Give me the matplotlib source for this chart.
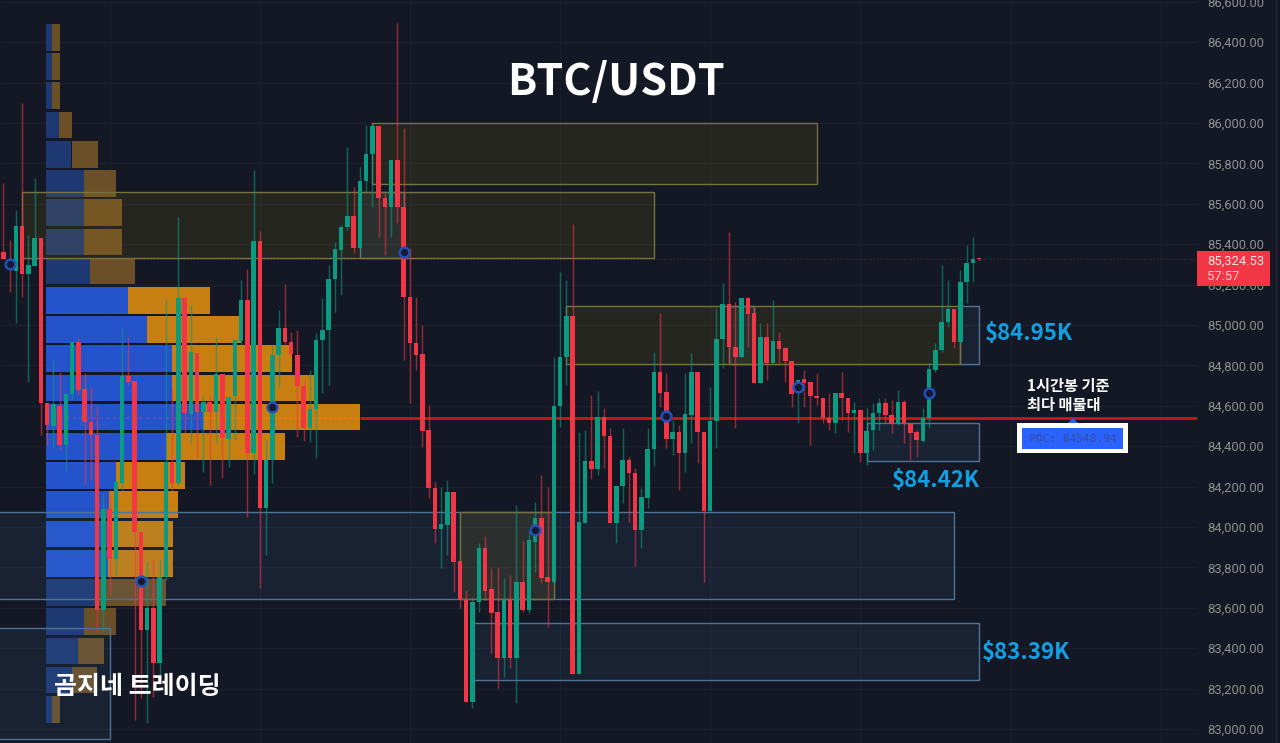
import matplotlib
matplotlib.use("Agg")
import matplotlib.pyplot as plt
from matplotlib.patches import Rectangle

plt.rcParams['font.family'] = ['Noto Sans CJK KR', 'DejaVu Sans']

# -----------------------------
# DATA
# -----------------------------
opens = [85361,85292,85267,85490,85252,85292,85430,84614,84500,84599,84406,84658,84916,84683,84520,84455,83589,84089,83842,84218,
         84747,84723,83975,83490,83599,83327,83752,84322,84218,85133,84559,84861,84569,84619,84569,84757,84436,84648,84921,85124,
         84366,85416,84094,84332,84851,84985,84916,84851,84698,84490,84584,84926,84975,85228,85371,85485,85539,85381,85713,85846,
         85985,85628,85584,85817,85584,85138,84911,84856,84480,84193,83990,84010,84173,83832,83639,83134,83629,83896,83693,83579,
         83351,83639,83351,83728,83589,83925,84044,83752,83728,84599,84841,85044,83272,84020,84327,84287,84544,84450,84020,84203,
         84332,84267,83985,84143,84386,84767,84668,84436,84470,84366,84554,84767,84470,84079,84525,84930,85104,84891,84841,85133,
         85059,84713,84940,84812,84921,84886,84822,84663,84733,84718,84648,84638,84539,84515,84663,84638,84564,84579,84366,84480,
         84564,84614,84554,84510,84619,84515,84470,84426,84539,84777,84876,85015,85079,84916,85213,85307,85325]
highs = [85703,85421,85569,86099,85445,85727,85430,84614,84827,84767,84658,84916,84940,84762,84693,84599,84168,84158,84223,84985,
         84940,84723,83975,83827,83837,83837,85124,84678,85534,85133,85099,84861,84648,84648,84940,84757,84643,84926,85223,85277,
         85767,85465,84431,84901,85074,85203,84965,84975,84728,84777,84960,85133,85297,85411,85495,85881,85683,85782,85990,86000,
         85985,85653,85817,86495,85975,85381,85138,85000,84604,84223,84198,84233,84173,83832,83688,83653,83921,83955,83797,83802,
         83747,83762,84109,83936,83985,84124,84257,84198,84841,85262,85223,85500,84470,84480,84653,84673,84589,84490,84203,84490,
         84346,84292,84193,84490,84866,85059,84762,84530,84505,84762,84861,84767,84470,84693,85084,85208,85460,85114,85133,85138,
         85089,85010,85010,85124,84965,84891,84822,84728,84777,84718,84762,84638,84663,84663,84767,84638,84619,84579,84589,84614,
         84638,84638,84629,84678,84629,84515,84480,84589,84812,84911,85297,85223,85079,85272,85396,85435,85331]
lows = [85327,85163,85010,85138,84718,85292,84455,84406,84391,84381,84272,84629,84653,84208,84233,83480,83480,83663,83762,84183,
        84703,83045,83153,83030,83158,83257,83738,84183,84208,84465,84416,84346,84272,84208,84416,84242,84297,84431,84901,84049,
        84262,83698,83861,84218,84693,84901,84846,84445,84426,84421,84341,84663,84703,85064,85148,85470,85356,85371,85658,85584,
        85435,85346,85435,85505,84827,84614,84777,84396,84143,83921,83797,83861,83678,83599,83134,83104,83579,83639,83376,83203,
        83257,83302,83129,83579,83574,83777,83723,83505,83713,84495,84703,83272,83272,84020,84238,84257,84292,84020,83921,84119,
        84025,83807,83896,84094,84302,84594,84391,84356,84183,84272,84416,84317,83728,84079,84391,84787,84812,84490,84841,84891,
        84713,84713,84728,84812,84812,84718,84594,84515,84594,84406,84604,84515,84480,84465,84530,84470,84366,84322,84307,84381,
        84480,84515,84465,84505,84416,84332,84346,84421,84490,84767,84866,84990,84886,84916,85109,85213,85318]
closes = [85327,85277,85490,85252,85297,85430,84614,84505,84609,84406,84658,84916,84678,84520,84455,83589,84089,83842,84223,84747,
          84718,83975,83490,83599,83327,83752,84322,84218,85133,84564,84866,84569,84619,84569,84757,84440,84643,84926,85124,84366,
          85416,84094,84332,84851,84985,84916,84856,84698,84490,84584,84926,84975,85228,85376,85485,85539,85381,85713,85846,85985,
          85628,85584,85817,85584,85138,84911,84851,84475,84193,83990,84015,84173,83827,83639,83134,83629,83896,83683,83574,83351,
          83639,83351,83728,83589,83936,84044,83747,83728,84599,84841,85044,83272,84025,84327,84287,84544,84450,84020,84203,84332,
          84267,83985,84148,84386,84767,84663,84436,84470,84366,84559,84767,84470,84079,84525,84930,85104,84891,84841,85133,85054,
          84713,84940,84812,84921,84881,84822,84658,84728,84713,84648,84638,84539,84515,84663,84638,84564,84579,84366,84475,84564,
          84614,84554,84510,84619,84515,84465,84431,84539,84782,84876,85015,85079,84916,85213,85307,85327,85324.53]

# volume profile rows, top to bottom
row_tops = [86490,86345,86201,86056,85911,85767,85622,85477,85333,85188,85043,84899,84754,84610,84465,84320,84176,84031,83886,83742,83597,83452,83308,83163]
buy_vol = [6.5,6.5,6.5,13,25.5,38,38,38,44,82,101,126,126,157,120,70,63,62,62,51,38,32,26,6.5]
sell_vol = [7.5,7.5,7.5,13,26,32,38,38,45,82,94,120,142,157,119,69,69,64.7,64.7,69,32,26,25,7.5]
strong_rows = [9,10,11,12,13,14,15,16,17,18]

# zones: left bar, right bar, top price, bottom price
yellow_zones = [(59,130,86000,85698),(3,104,85658,85331),(90,153,85094,84807),(73,88,84074,83644)]
blue_zones = [(-5,152,84074,83644),(75,156,83525,83243),(-5,17,83500,82950),(153,156,85094,84807),
              (138,156,84515,84327),(57,64,85658,85331),(116,120,85094,84807)]

circle_bars = [1,22,43,64,85,106,127,148]
circle_prices = [85302,83733,84594,85361,83985,84549,84693,84663]

y_ticks = list(range(83000,86601,200))
grid_bars = [17,41,65,89,113,137,161,185]
last_price = 85324.53
poc_price = 84542

# -----------------------------
# COLOURS / SCALE
# -----------------------------
BG = '#131824'
GREEN = '#0b9b80'
RED = '#f23645'
BAR_STEP = 6.256      # pixels per candle
X_ZERO = 3.3          # pixel of candle 0
W, H = 1280, 743
PANE_X = 1197

def bar_x(px):
    return (px - X_ZERO) / BAR_STEP

fig = plt.figure(figsize=(W / 100, H / 100), dpi=100, facecolor=BG)
ax = fig.add_axes([0, 0, 1, 1], facecolor=BG)
ax.set_xlim(bar_x(0), bar_x(W))
ax.set_ylim(82930.7, 86608.9)
for s in ax.spines.values():
    s.set_visible(False)

# y axis labels sit inside the picture, on the price pane
ax.yaxis.tick_right()
ax.set_yticks(y_ticks)
ax.set_yticklabels([f"{v:,.2f}" for v in y_ticks], family='Roboto', fontsize=9.4, color='#8f8f8f')
ax.tick_params(axis='y', length=0, pad=-52.5)
ax.set_xticks([])

# grid
ax.hlines(y_ticks, bar_x(0), bar_x(PANE_X), color='#1b1f2c', lw=1, zorder=0.5)
ax.vlines(grid_bars, 82930.7, 86608.9, color='#1a1e2b', lw=1, zorder=0.5)
ax.axvline(bar_x(1276), color='#262a36', lw=1, zorder=0.6)

# -----------------------------
# VOLUME PROFILE
# -----------------------------
vp_left = bar_x(46)
for i, top in enumerate(row_tops):
    strong = i in strong_rows
    c_buy = '#2453cb' if strong else '#1e3872'
    c_sell = '#c67f10' if strong else '#6a4f27'
    b = buy_vol[i] / BAR_STEP
    s = sell_vol[i] / BAR_STEP
    ax.bar(vp_left, -132, bottom=top, width=b, align='edge', color=c_buy, lw=0, zorder=1)
    ax.bar(vp_left + b, -132, bottom=top, width=s, align='edge', color=c_sell, lw=0, zorder=1)

# -----------------------------
# ZONES
# -----------------------------
for left, right, top, bottom in blue_zones:
    ax.add_patch(Rectangle((left, bottom), right - left, top - bottom, fc='#5f8fd0', alpha=0.09, lw=0, zorder=2))
    ax.add_patch(Rectangle((left, bottom), right - left, top - bottom, fc='none', ec='#4f7397', lw=1, zorder=2.1))
for left, right, top, bottom in yellow_zones:
    ax.add_patch(Rectangle((left, bottom), right - left, top - bottom, fc='#d1a406', alpha=0.1, lw=0, zorder=2.2))
    ax.add_patch(Rectangle((left, bottom), right - left, top - bottom, fc='none', ec='#77733f', lw=1, zorder=2.3))

# -----------------------------
# POC LINE
# -----------------------------
ax.hlines(poc_price, bar_x(360), bar_x(PANE_X), color='#c41a1a', lw=2, zorder=3)
ax.hlines(poc_price, bar_x(46), bar_x(204), color='#6f4fb0', lw=1.2, ls=(0, (2, 2)), alpha=0.8, zorder=3)
ax.hlines(poc_price, bar_x(204), bar_x(360), color='#ee7a0a', lw=1.2, ls=(0, (2, 1)), zorder=3)
ax.hlines(last_price, bar_x(0), bar_x(PANE_X), color='#f23645', lw=0.8, ls=(0, (1, 2)), alpha=0.35, zorder=3)

# -----------------------------
# CANDLES
# -----------------------------
for i in range(len(opens)):
    up = closes[i] >= opens[i]
    col = GREEN if up else RED
    ax.vlines(i, lows[i], highs[i], color=col, lw=1, alpha=0.6, zorder=4)
    low_body = min(opens[i], closes[i])
    height = max(abs(closes[i] - opens[i]), 5)
    ax.bar(i, height, bottom=low_body, width=0.72, color=col, lw=0, zorder=4.5)

ax.plot(circle_bars, circle_prices, ls='none', marker='o', ms=7, mfc='#141a2c', mec='#2350b8', mew=1.8, zorder=5)

# -----------------------------
# PRICE TAG + POC BOX
# -----------------------------
def add_box(x0, y0, x1, y1, color, z):
    ax.add_patch(Rectangle((x0 / W, 1 - y1 / H), (x1 - x0) / W, (y1 - y0) / H, transform=ax.transAxes, fc=color, lw=0, zorder=z))

def add_text(x, y, s, **kw):
    ax.text(x / W, 1 - y / H, s, transform=ax.transAxes, zorder=8, **kw)

add_box(1197, 251, 1270, 286, RED, 6)
add_text(1207, 261.5, f"{last_price:,.2f}", family='Roboto', fontsize=9.4, color='#fde4e6', va='center')
add_text(1207, 276.5, "57:57", family='Roboto', fontsize=9.4, color='#fbd0d4', va='center')

add_box(1017, 423, 1128, 453, 'white', 6)
add_box(1022, 428, 1123, 449, '#2962ff', 7)
add_text(1073, 439, "POC: 84548.94", family='DejaVu Sans Mono', fontsize=8, color='#3a4d8f', ha='center', va='center')
ax.plot([bar_x(1073)], [84515], marker='D', ms=5, color='#2962ff', mew=0, zorder=5.5)

# -----------------------------
# TEXT
# -----------------------------
add_text(616, 82, "BTC/USDT", fontsize=31, color='white', ha='center', va='center', weight='bold')
add_text(137, 687, "곰지네 트레이딩", fontsize=18, color='white', ha='center', va='center', weight='bold')
add_text(1027, 386, "1시간봉 기준", fontsize=11, color='white', va='center', weight='bold')
add_text(1027, 405, "최다 매물대", fontsize=11, color='white', va='center', weight='bold')
add_text(985, 333, "$84.95K", fontsize=16, color='#12a0e4', va='center', weight='bold')
add_text(892, 481, "$84.42K", fontsize=16, color='#12a0e4', va='center', weight='bold')
add_text(982, 653, "$83.39K", fontsize=16, color='#12a0e4', va='center', weight='bold')

fig.savefig("out.png", dpi=100, facecolor=BG)
